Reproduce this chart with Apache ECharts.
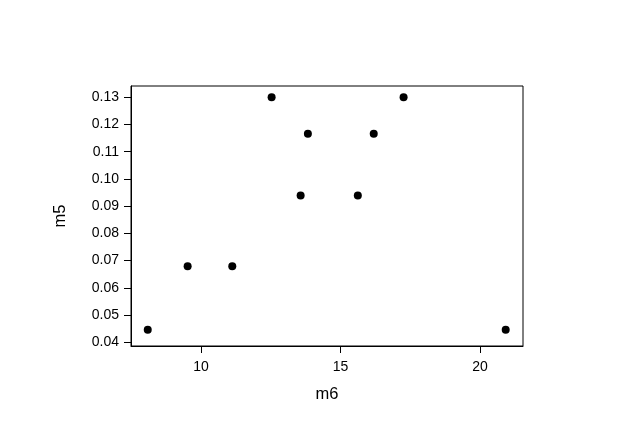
<!DOCTYPE html>
<html><head><meta charset="utf-8">
<script src="https://cdn.jsdelivr.net/npm/echarts@6/dist/echarts.min.js"></script>
<style>html,body{margin:0;padding:0;background:#fff}#c{width:640px;height:424px}</style>
</head><body><div id="c"></div>
<script>
const m6 = [8.09, 9.52, 11.12, 12.53, 13.83, 13.57, 15.62, 16.19, 17.26, 20.92];
const m5 = [0.0446, 0.0679, 0.0679, 0.1300, 0.1166, 0.0939, 0.0939, 0.1166, 0.1300, 0.0446];
const xTicks = [10, 15, 20];
const yTicks = [0.04, 0.05, 0.06, 0.07, 0.08, 0.09, 0.10, 0.11, 0.12, 0.13];

const chart = echarts.init(document.getElementById('c'), null, {renderer: 'canvas'});
const font = 'Liberation Sans, Arial, sans-serif';
chart.setOption({
  animation: false,
  backgroundColor: '#fff',
  grid: {left: 131, top: 86, width: 392, height: 260, show: true, borderColor: '#000', borderWidth: 1, containLabel: false},
  xAxis: {
    type: 'value', min: 7.49, max: 21.54,
    name: 'm6', nameLocation: 'middle', nameGap: 40,
    nameTextStyle: {fontFamily: font, fontSize: 16.5, color: '#000'},
    axisLine: {show: true, onZero: false, lineStyle: {color: '#000', width: 1}},
    axisTick: {show: true, length: 7, customValues: xTicks, lineStyle: {color: '#000'}},
    axisLabel: {customValues: xTicks, margin: 14, fontFamily: font, fontSize: 14, color: '#000'},
    splitLine: {show: false}
  },
  yAxis: {
    type: 'value', min: 0.03864, max: 0.13415,
    name: 'm5', nameLocation: 'middle', nameGap: 62,
    nameTextStyle: {fontFamily: font, fontSize: 16.5, color: '#000'},
    axisLine: {show: true, onZero: false, lineStyle: {color: '#000', width: 1}},
    axisTick: {show: true, length: 7, customValues: yTicks, lineStyle: {color: '#000'}},
    axisLabel: {customValues: yTicks, margin: 12, fontFamily: font, fontSize: 14, color: '#000',
      formatter: v => v.toFixed(2)},
    splitLine: {show: false}
  },
  series: [{
    type: 'scatter', symbol: 'circle', symbolSize: 8,
    itemStyle: {color: '#000', opacity: 1},
    data: m6.map((x, i) => [x, m5[i]])
  }]
});
</script></body></html>
